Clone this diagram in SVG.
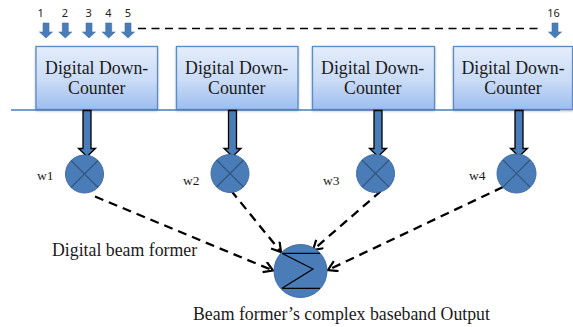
<svg xmlns="http://www.w3.org/2000/svg" width="573" height="327" viewBox="0 0 573 327">
<style>
.s{font-family:"Liberation Serif",serif;fill:#1a1a1a}
.box{fill:url(#g);stroke:#5b8cc4;stroke-width:1.3}
.lbl{font-size:17.8px;text-anchor:middle}
.w{font-size:13.5px}
.n{font-family:"Noto Sans","Liberation Sans",sans-serif;font-size:11px;fill:#222;text-anchor:middle}
.c{fill:#4a7db8;stroke:#3f6ea6;stroke-width:1}
.x{stroke:#33557f;stroke-width:1.2;fill:none}
.in{fill:#4a7db8;stroke:#3f6ea6;stroke-width:.6}
.sh{fill:#4a7db8;stroke:#000;stroke-width:1.3}
.d{stroke:#000;stroke-width:2.3;stroke-dasharray:9 6;fill:none;marker-end:url(#a)}
.k{stroke:#000;stroke-width:1.2;fill:none}
</style>
<defs>
<linearGradient id="g" x1="0" y1="0" x2="0" y2="1"><stop offset="0" stop-color="#e4edfb"/><stop offset=".55" stop-color="#c9dbf6"/><stop offset="1" stop-color="#9dbdf0"/></linearGradient>
<marker id="a" markerUnits="userSpaceOnUse" markerWidth="14" markerHeight="14" refX="10" refY="6" orient="auto"><path d="M1 0.500L10 6L1 11.500" fill="none" stroke="#000" stroke-width="2.200"/></marker>
<filter id="f" x="-5%" y="-5%" width="110%" height="115%"><feDropShadow dx="0" dy="1" stdDeviation="1" flood-color="#888" flood-opacity=".6"/></filter>
<path id="in" d="M-3 -8H3V1H6.500L0 7L-6.500 1H-3Z"/>
<path id="sh" d="M-4 0H4V38H8.500L0 46L-8.500 38H-4Z"/>
</defs>
<rect width="573" height="327" fill="#fff"/>
<g id="ddc1"><rect class="box" filter="url(#f)" x="36" y="46.500" width="121.500" height="63"/><text class="s lbl" x="96.700" y="74">Digital Down-</text><text class="s lbl" x="96.700" y="94">Counter</text></g>
<g id="ddc2"><rect class="box" filter="url(#f)" x="176.500" y="46.500" width="121.500" height="63"/><text class="s lbl" x="236.700" y="74">Digital Down-</text><text class="s lbl" x="236.700" y="94">Counter</text></g>
<g id="ddc3"><rect class="box" filter="url(#f)" x="312.500" y="46.500" width="122" height="63"/><text class="s lbl" x="372.700" y="74">Digital Down-</text><text class="s lbl" x="372.700" y="94">Counter</text></g>
<g id="ddc4"><rect class="box" filter="url(#f)" x="453.500" y="46.500" width="119" height="63"/><text class="s lbl" x="513" y="74">Digital Down-</text><text class="s lbl" x="513" y="94">Counter</text></g>
<g id="connectors">
<path d="M11 110H560" stroke="#4a7db8" stroke-width="1.500" fill="none"/>
<path d="M138 28.500H540" stroke="#000" stroke-width="1.300" stroke-dasharray="8 5.500" fill="none"/>
<use href="#sh" x="87" y="110.500" class="sh"/>
<use href="#sh" x="232.500" y="110.500" class="sh"/>
<use href="#sh" x="378" y="110.500" class="sh"/>
<use href="#sh" x="519" y="110.500" class="sh"/>
<path class="d" d="M95 196.500L273 270.500"/>
<path class="d" d="M231 190.500L281 252"/>
<path class="d" d="M381 191L313 250"/>
<path class="d" d="M503 187L328 270"/>
</g>
<g id="inputs">
<use href="#in" x="46" y="31" class="in"/><text class="n" x="40.700" y="17">1</text>
<use href="#in" x="65.300" y="31" class="in"/><text class="n" x="64.800" y="17">2</text>
<use href="#in" x="89" y="31" class="in"/><text class="n" x="88.700" y="17">3</text>
<use href="#in" x="108.700" y="31" class="in"/><text class="n" x="108.500" y="17">4</text>
<use href="#in" x="128" y="31" class="in"/><text class="n" x="128" y="17">5</text>
<use href="#in" x="555" y="31" class="in"/><text class="n" x="553.500" y="17">16</text>
</g>
<g id="w1"><circle class="c" cx="84.500" cy="174" r="19"/><path class="x" d="M71 160.500L98 187.500M98 160.500L71 187.500"/><text class="s w" x="37" y="180">w1</text></g>
<g id="w2"><circle class="c" cx="230" cy="173.500" r="19"/><path class="x" d="M216.500 160L243.500 187M243.500 160L216.500 187"/><text class="s w" x="183" y="185">w2</text></g>
<g id="w3"><circle class="c" cx="375.500" cy="173.500" r="19"/><path class="x" d="M362 160L389 187M389 160L362 187"/><text class="s w" x="323" y="185">w3</text></g>
<g id="w4"><circle class="c" cx="516.500" cy="173.500" r="19.500"/><path class="x" d="M503 160L530 187M530 160L503 187"/><text class="s w" x="469" y="180">w4</text></g>
<g id="sum"><circle class="c" cx="300.500" cy="271" r="26.500"/><path class="k" d="M282 253.300H320M282 288.300H320M282 253.300L313 269L282 288.300"/></g>
<text class="s" font-size="17.800" x="52" y="256">Digital beam former</text>
<text class="s" font-size="17.800" x="193" y="320">Beam former’s complex baseband Output</text>
</svg>
